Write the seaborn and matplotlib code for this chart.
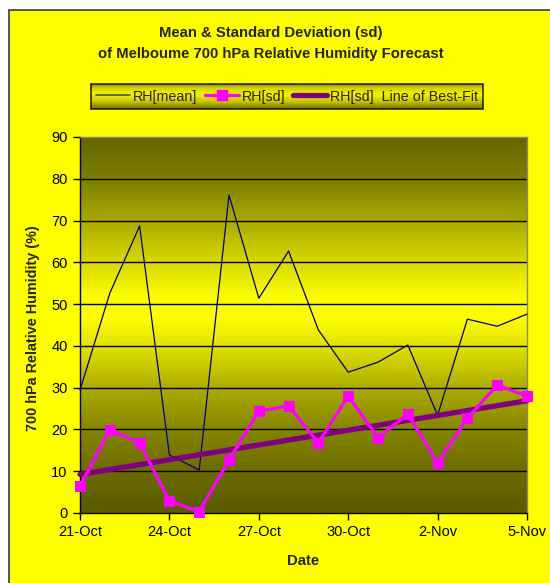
import numpy as np
import pandas as pd
import matplotlib
matplotlib.use("Agg")
import matplotlib.pyplot as plt
from matplotlib.colors import LinearSegmentedColormap
from matplotlib.patches import Rectangle
from matplotlib.lines import Line2D
import seaborn as sns

# Forecast dates (21 Oct - 5 Nov)
dates = ["21-Oct", "22-Oct", "23-Oct", "24-Oct", "25-Oct", "26-Oct", "27-Oct", "28-Oct",
         "29-Oct", "30-Oct", "31-Oct", "1-Nov", "2-Nov", "3-Nov", "4-Nov", "5-Nov"]
rh_mean = [29.4, 52.6, 68.7, 13.9, 10.3, 76.1, 51.4, 62.7,
           43.8, 33.7, 36.1, 40.2, 23.4, 46.4, 44.7, 47.6]
rh_sd = [6.5, 19.9, 16.8, 2.9, 0.3, 12.7, 24.4, 25.6,
         16.8, 28.0, 18.0, 23.7, 11.9, 22.7, 30.6, 28.0]
tick_labels = ["21-Oct", "24-Oct", "27-Oct", "30-Oct", "2-Nov", "5-Nov"]

df = pd.DataFrame({"date": dates, "mean": rh_mean, "sd": rh_sd})
df["day"] = np.arange(len(df))

sns.set_style("ticks")
plt.rcParams["font.family"] = ["Liberation Sans", "DejaVu Sans"]

W, H = 550, 583
fig = plt.figure(figsize=(W / 100, H / 100), dpi=100)
fig.patch.set_facecolor("white")


def fx(px):
    return px / W


def fy(py):
    return 1 - py / H


# chart area (right and bottom edges run off the canvas)
fig.patches.append(Rectangle((fx(9), -0.1), 1.2, fy(10) + 0.1, transform=fig.transFigure,
                             facecolor="#FFFF00", edgecolor="#3a3a3a", linewidth=1.2,
                             zorder=-10))

ax = fig.add_axes([fx(80), fy(513), fx(527) - fx(80), fy(137) - fy(513)])
ax.set_facecolor("#FFFF00")

# vertical shaded background of the plot area
stops = [(0.0, "#5a5a00"), (0.11, "#6c6c00"), (0.22, "#858500"), (0.33, "#abab00"),
         (0.44, "#e0e000"), (0.52, "#ffff00"), (0.58, "#fbfb00"), (0.67, "#d8d800"),
         (0.78, "#a8a800"), (0.89, "#7e7e00"), (1.0, "#666600")]
cmap = LinearSegmentedColormap.from_list("olive", stops)
grad = np.linspace(0, 1, 256).reshape(-1, 1)
ax.imshow(grad, cmap=cmap, origin="lower", aspect="auto",
          extent=[0, 15, 0, 90], zorder=0)

sns.lineplot(data=df, x="day", y="mean", ax=ax, color="#000080", linewidth=0.9,
             label="RH[mean]", zorder=3)
sns.lineplot(data=df, x="day", y="sd", ax=ax, color="#FF00FF", linewidth=2.3,
             marker="s", markersize=7.5, markeredgecolor="#FF00FF",
             label="RH[sd]", zorder=5)
sns.regplot(data=df, x="day", y="sd", ax=ax, scatter=False, ci=None, truncate=True,
            line_kws=dict(color="#800080", linewidth=3.8, zorder=4,
                          label="RH[sd]  Line of Best-Fit"))

for ln in ax.lines:
    ln.set_clip_on(False)

ax.set_xlim(0, 15)
ax.set_ylim(0, 90)
ax.set_yticks(np.arange(0, 91, 10))
ax.set_xticks([dates.index(t) for t in tick_labels])
ax.set_xticklabels(tick_labels)
ax.set_xlabel("")
ax.set_ylabel("")
ax.tick_params(axis="both", labelsize=10.5, colors="black", length=5, width=1,
               direction="out", pad=4)
for y in range(10, 90, 10):
    ax.axhline(y, color="black", linewidth=1.0, zorder=1)
ax.spines["left"].set_color("black")
ax.spines["bottom"].set_color("black")
ax.spines["top"].set_color("#8a8a6a")
ax.spines["right"].set_color("#8a8a6a")
for s in ax.spines.values():
    s.set_linewidth(1.0)
    s.set_visible(True)
ax.get_legend().remove()

fig.text(fx(271), fy(33), "Mean & Standard Deviation (sd)", ha="center", va="center",
         fontsize=10.7, fontweight="bold")
fig.text(fx(271), fy(54), "of Melboume 700 hPa Relative Humidity Forecast",
         ha="center", va="center", fontsize=10.7, fontweight="bold")
fig.text(fx(33), fy(328), "700 hPa Relative Humidity (%)", rotation=90,
         ha="center", va="center", fontsize=10.4, fontweight="bold")
fig.text(fx(303), fy(561), "Date", ha="center", va="center",
         fontsize=10.7, fontweight="bold")

handles = [
    Line2D([], [], color="#505070", linewidth=1.2),
    Line2D([], [], color="#FF00FF", linewidth=2.3, marker="s", markersize=7.5),
    Line2D([], [], color="#800080", linewidth=3.8),
]
labels = ["RH[mean]", "RH[sd]", "RH[sd]  Line of Best-Fit"]
leg = fig.legend(handles, labels, loc="center", bbox_to_anchor=(fx(287), fy(96.5)),
                 ncol=3, fontsize=10.3, frameon=True, fancybox=False,
                 handlelength=2.4, handletextpad=0.2, columnspacing=0.5,
                 borderpad=0.35, borderaxespad=0)
frame = leg.get_frame()
frame.set_facecolor("none")
frame.set_edgecolor("black")
frame.set_linewidth(1.2)

fig.canvas.draw()
bb = frame.get_window_extent().transformed(fig.transFigure.inverted())
lax = fig.add_axes([bb.x0, bb.y0, bb.width, bb.height], zorder=-1)
lstops = [(0.0, "#6e6e00"), (0.3, "#c8c800"), (0.6, "#f4f400"), (0.85, "#d0d000"),
          (1.0, "#8a8a00")]
lax.imshow(grad, cmap=LinearSegmentedColormap.from_list("leg", lstops), origin="lower",
           aspect="auto", extent=[0, 1, 0, 1])
lax.set_axis_off()

fig.savefig("out.png", dpi=100)
